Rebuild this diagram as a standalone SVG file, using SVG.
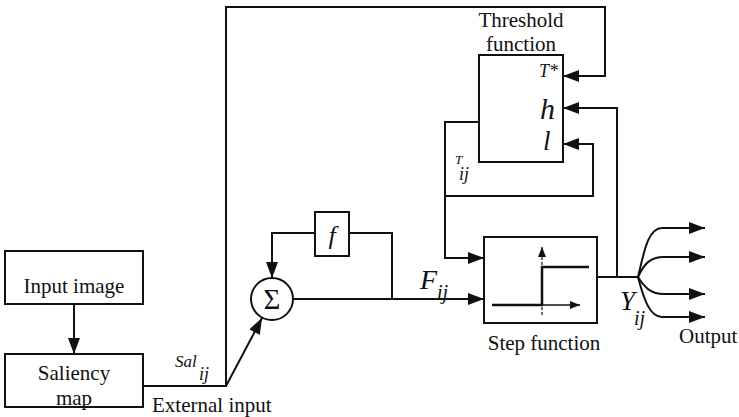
<svg xmlns="http://www.w3.org/2000/svg" width="739" height="417" viewBox="0 0 739 417">
<defs>
<style>
text{font-family:'Liberation Serif','Times New Roman',Times,serif;fill:#111}
.box{fill:#fff;stroke:#111;stroke-width:2}
.ln{fill:none;stroke:#111;stroke-width:2}
.thin{fill:none;stroke:#111;stroke-width:1.3}
.t{font-size:21px}
.i{font-style:italic}
</style>
<marker id="ah" viewBox="0 0 16 12" refX="16" refY="6" markerWidth="16" markerHeight="12" markerUnits="userSpaceOnUse" orient="auto">
<path d="M0,0 L16,6 L0,12 z" fill="#111"/>
</marker>
<marker id="sa" viewBox="0 0 10 8" refX="10" refY="4" markerWidth="10" markerHeight="8" markerUnits="userSpaceOnUse" orient="auto">
<path d="M0,0 L10,4 L0,8 z" fill="#111"/>
</marker>
</defs>
<rect width="739" height="417" fill="#fff"/>

<g id="connectors">
<line class="ln" x1="74" y1="304" x2="74" y2="354" marker-end="url(#ah)"/>
<polyline class="ln" points="143,386 226,386 226,7 605,7 605,76 563,76" marker-end="url(#ah)"/>
<line class="ln" x1="226" y1="386" x2="262" y2="318" marker-end="url(#ah)"/>
<line class="ln" x1="293" y1="299" x2="484" y2="299" marker-end="url(#ah)"/>
<polyline class="ln" points="392,299 392,233 349,233"/>
<polyline class="ln" points="315,233 272,233 272,278" marker-end="url(#ah)"/>
<polyline class="ln" points="479,122 445,122 445,258 484,258" marker-end="url(#ah)"/>
<polyline class="ln" points="445,196 593,196 593,144 563,144" marker-end="url(#ah)"/>
<line class="ln" x1="597" y1="277" x2="638" y2="277"/>
<polyline class="ln" points="617,277 617,108 563,108" marker-end="url(#ah)"/>
<path class="ln" d="M638,277 C644,252 648,228 662,228 L705,228" marker-end="url(#ah)"/>
<path class="ln" d="M638,277 C644,264 650,257 664,257 L705,257" marker-end="url(#ah)"/>
<path class="ln" d="M638,277 C645,288 651,294 664,294 L705,294" marker-end="url(#ah)"/>
<path class="ln" d="M638,277 C644,300 650,317 662,317 L705,317" marker-end="url(#ah)"/>
</g>

<g id="input-image">
<rect class="box" x="5" y="251" width="138" height="53"/>
<text class="t" x="74" y="293" text-anchor="middle">Input image</text>
</g>

<g id="saliency-map">
<rect class="box" x="5" y="354" width="138" height="53"/>
<text class="t" x="74" y="380" text-anchor="middle">Saliency</text>
<text class="t" x="74" y="405" text-anchor="middle">map</text>
</g>

<g id="sal-label">
<text class="i" x="175" y="367" font-size="17">Sal</text>
<text class="i" x="199" y="380" font-size="18">ij</text>
<text class="t" x="152" y="412">External input</text>
</g>

<g id="sum">
<circle class="box" cx="272" cy="299" r="21"/>
<text x="272" y="309" text-anchor="middle" font-size="29">Σ</text>
</g>

<g id="f-box">
<rect class="box" x="315" y="212" width="34" height="44"/>
<text class="i" x="332" y="244" font-size="26" text-anchor="middle">f</text>
</g>

<g id="f-label">
<text class="i" x="420" y="289" font-size="28">F</text>
<text class="i" x="437" y="299" font-size="20">ij</text>
</g>

<g id="threshold">
<text class="t" x="521" y="27" text-anchor="middle">Threshold</text>
<text class="t" x="521" y="51" text-anchor="middle">function</text>
<rect class="box" x="479" y="55" width="84" height="107"/>
<text class="i" x="558" y="77" font-size="18" text-anchor="end">T*</text>
<text class="i" x="540" y="119" font-size="30">h</text>
<text class="i" x="543" y="150" font-size="27">l</text>
</g>

<g id="t-label">
<text class="i" x="455" y="164" font-size="13">T</text>
<text class="i" x="459" y="180" font-size="18">ij</text>
</g>

<g id="step">
<rect class="box" x="484" y="237" width="113" height="86"/>
<line x1="542" y1="315" x2="542" y2="247" stroke="#111" stroke-width="1.2" stroke-dasharray="3,2" marker-end="url(#sa)"/>
<line class="thin" x1="542" y1="305" x2="580" y2="305" marker-end="url(#sa)"/>
<polyline fill="none" stroke="#111" stroke-width="2.5" points="492,305 542,305 542,267 589,267"/>
<text class="t" x="544" y="350" text-anchor="middle">Step function</text>
</g>

<g id="y-label">
<text class="i" x="620" y="310" font-size="27">Y</text>
<text class="i" x="634" y="325" font-size="20">ij</text>
</g>

<g id="output">
<text class="t" x="679" y="343">Output</text>
</g>
</svg>
